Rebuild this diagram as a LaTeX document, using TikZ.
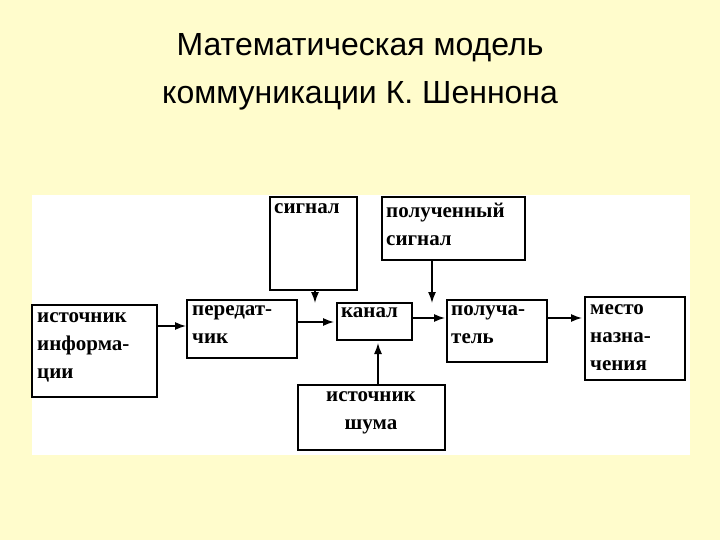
\documentclass[tikz,border=0pt]{standalone}
\usepackage{fontspec}
\setmainfont{Liberation Serif}
\newfontfamily\titlefont{Liberation Sans}
\usetikzlibrary{arrows.meta}
\begin{document}
\begin{tikzpicture}[x=1pt,y=-1pt,
  bx/.style={draw,line width=1.8pt,fill=white},
  lb/.style={anchor=north west,align=left,font=\bfseries\fontsize{21}{28}\selectfont,inner sep=0pt},
  ar/.style={-{Latex[length=11pt,width=8pt]},line width=1.4pt}]
\fill[yellow!20!white] (0,0) rectangle (720,540);
\useasboundingbox (0,0) rectangle (720,540);
\fill[white] (32,195) rectangle (690,455);
\node[align=center,font=\titlefont\fontsize{32}{48}\selectfont] (title) at (360,72) {Математическая модель\\коммуникации К. Шеннона};
\draw[bx] (32,305) rectangle (157,397);
\draw[bx] (187,300) rectangle (297,358);
\draw[bx] (270,197) rectangle (357,290);
\draw[bx] (382,197) rectangle (525,260);
\draw[bx] (337,303) rectangle (412,340);
\draw[bx] (447,300) rectangle (547,362);
\draw[bx] (585,297) rectangle (685,380);
\draw[bx] (298,385) rectangle (445,450);
\node[lb] (n1) at (37,312) {источник\\информа-\\ции};
\node[lb] (n2) at (192,305) {передат-\\чик};
\node[lb] (n3) at (274,203) {сигнал};
\node[lb] (n4) at (386,203) {полученный\\сигнал};
\node[lb] (n5) at (341,307) {канал};
\node[lb] (n6) at (451,305) {получа-\\тель};
\node[lb] (n7) at (590,304) {место\\назна-\\чения};
\node[lb,align=center,anchor=north] (n8) at (371,391) {источник\\шума};
\coordinate (p1) at (157,326); \coordinate (q1) at (186,326);
\coordinate (p2) at (298,322); \coordinate (q2) at (334,322);
\coordinate (p3) at (413,318); \coordinate (q3) at (445,318);
\coordinate (p4) at (548,318); \coordinate (q4) at (582,318);
\coordinate (p5) at (315,291); \coordinate (q5) at (315,303);
\coordinate (p6) at (432,261); \coordinate (q6) at (432,303);
\coordinate (p7) at (378,384); \coordinate (q7) at (378,343);
\foreach \i in {1,...,7}{\draw[ar] (p\i) -- (q\i);}
\end{tikzpicture}
\end{document}
